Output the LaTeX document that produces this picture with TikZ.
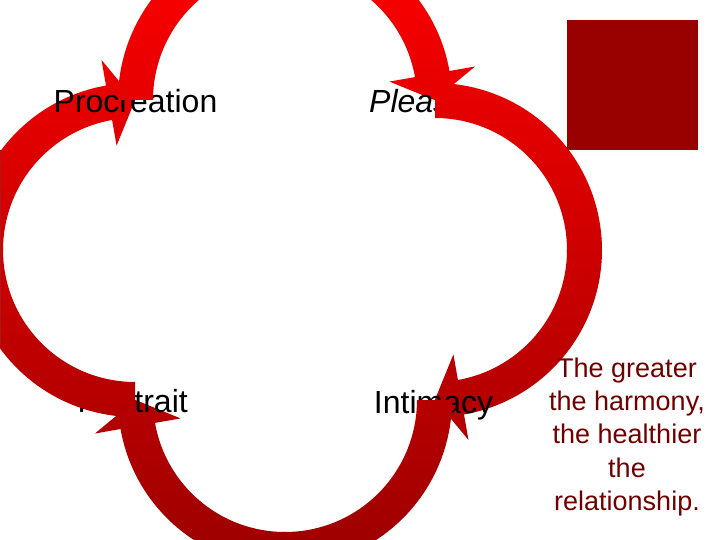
\documentclass[tikz,border=0pt]{standalone}
\usepackage{fontspec}
\setmainfont{Liberation Sans}
\definecolor{arrtop}{RGB}{245,0,0}
\definecolor{arrbot}{RGB}{160,0,0}
\definecolor{sqred}{RGB}{153,0,0}
\definecolor{txtred}{RGB}{112,0,0}
\tikzset{
  arrowshade/.style={top color=arrtop, bottom color=arrbot},
  lbl/.style={font=\fontsize{32}{38}\selectfont, text=black, inner sep=0pt},
  note/.style={font=\fontsize{27}{33.3}\selectfont, text=txtred, align=center, inner sep=0pt}
}
% head half: cx, cy, mid angle, tip angle
\newcommand{\arrHeadHalf}[4]{%
  \begin{scope}
    \clip[shift={(#1,#2)}] (#3:167) arc[start angle=#3, end angle=#4+10, radius=167]
      -- (#4+10:193) -- (#4:149.5) -- (#4+10:106) -- (#4+10:132)
      arc[start angle=#4+10, end angle=#3, radius=132] -- cycle;
    \shade[arrowshade] (0,0) rectangle (720,-540);
  \end{scope}}
% tail half: cx, cy, start angle, mid angle
\newcommand{\arrTailHalf}[4]{%
  \begin{scope}
    \clip[shift={(#1,#2)}] (#3:167) arc[start angle=#3, end angle=#4-1, radius=167]
      -- (#4-1:132) arc[start angle=#4-1, end angle=#3, radius=132] -- cycle;
    \shade[arrowshade] (0,0) rectangle (720,-540);
  \end{scope}}
\begin{document}
\begin{tikzpicture}[x=1pt, y=1pt]
  \useasboundingbox (0,0) rectangle (720,-540);
  \clip (0,0) rectangle (720,-540);
  % arrow heads (with second half of each arc)
  \arrHeadHalf{285}{-100}{90}{0}
  \arrHeadHalf{435}{-250}{0}{-90}
  \arrHeadHalf{285}{-400}{-90}{-180}
  \arrHeadHalf{135}{-250}{-180}{-270}
  % labels
  \node[lbl, anchor=base] (procreation) at (135.5,-113) {Procreation};
  \node[lbl, anchor=base west] (pleasure) at (369,-113) {\itshape Pleasure};
  \node[lbl, anchor=base] (intimacy) at (433.5,-413) {Intimacy};
  \node[lbl, anchor=base east] (restrait) at (188,-412.5) {Restrait};
  % arrow tails (first half of each arc)
  \arrTailHalf{285}{-100}{180}{90}
  \arrTailHalf{435}{-250}{90}{0}
  \arrTailHalf{285}{-400}{0}{-90}
  \arrTailHalf{135}{-250}{-90}{-180}
  % thin edge line at the left border
  \draw[arrbot!90!white, line width=0.8pt] (0.4,-150) -- (0.4,-346);
  % square and note
  \fill[sqred] (567,-20) rectangle (698,-150);
  \node[note, anchor=north] (harmony) at (627,-357.5)
    {The greater\\the harmony,\\the healthier\\the\\relationship.};
\end{tikzpicture}
\end{document}
